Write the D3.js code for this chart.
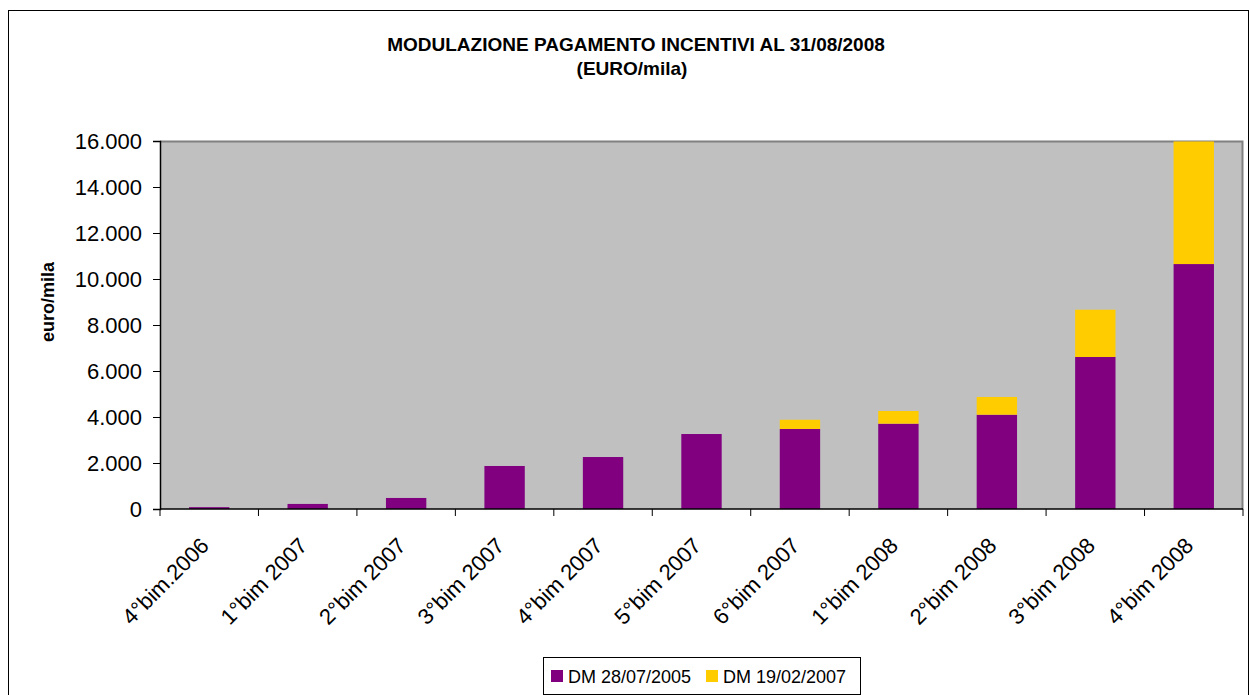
<!DOCTYPE html>
<html>
<head>
<meta charset="utf-8">
<title>Modulazione pagamento incentivi</title>
<script src="https://d3js.org/d3.v7.min.js"></script>
<style>
  body { margin: 0; background: #fff; }
  text { font-family: "Liberation Sans", Arial, sans-serif; }
</style>
</head>
<body>
<div id="chart"></div>
<script>
// periodi (bimestri)
const categories = ["4°bim.2006", "1°bim 2007", "2°bim 2007", "3°bim 2007", "4°bim 2007",
  "5°bim 2007", "6°bim 2007", "1°bim 2008", "2°bim 2008", "3°bim 2008", "4°bim 2008"];
// euro/mila per decreto
const dm2005 = [80, 220, 480, 1870, 2260, 3260, 3480, 3710, 4100, 6610, 10650];
const dm2007 = [0, 0, 0, 0, 0, 0, 400, 550, 770, 2055, 5330];
const seriesNames = ["DM 28/07/2005", "DM 19/02/2007"];
const yTicks = [0, 2000, 4000, 6000, 8000, 10000, 12000, 14000, 16000];

const W = 1250, H = 695;
const margin = {top: 141, right: 7, bottom: 186, left: 160};
const w = W - margin.left - margin.right;
const h = H - margin.top - margin.bottom;

const svg = d3.select("#chart").append("svg")
    .attr("width", W).attr("height", H);

// cornice esterna
svg.append("rect")
    .attr("x", 8.5).attr("y", 10.5)
    .attr("width", 1240).attr("height", 690)
    .attr("fill", "#fff").attr("stroke", "#000").attr("stroke-width", 1);

// titolo
svg.append("text")
    .attr("x", 636).attr("y", 51)
    .attr("text-anchor", "middle")
    .attr("font-size", "19px").attr("font-weight", "bold")
    .text("MODULAZIONE PAGAMENTO INCENTIVI AL 31/08/2008");
svg.append("text")
    .attr("x", 632).attr("y", 75)
    .attr("text-anchor", "middle")
    .attr("font-size", "19px").attr("font-weight", "bold")
    .text("(EURO/mila)");

const g = svg.append("g")
    .attr("transform", "translate(" + margin.left + "," + margin.top + ")");

const x = d3.scaleBand().domain(categories).range([0, w]).paddingInner(0.59).paddingOuter(0.295);
const xTicks = d3.scaleBand().domain(categories).range([0, w]);
const y = d3.scaleLinear().domain([0, 16000]).range([h, 0]);

// area del grafico
g.append("rect")
    .attr("width", w).attr("height", h)
    .attr("fill", "#C0C0C0");
g.append("path")
    .attr("d", "M0,0.5H" + (w - 0.5) + "V" + h)
    .attr("fill", "none").attr("stroke", "#808080").attr("stroke-width", 2);

// barre impilate
const table = categories.map((c, i) => ({cat: c, a: dm2005[i], b: dm2007[i]}));
const stack = d3.stack().keys(["a", "b"])(table);
const colors = ["#800080", "#FFCC00"];

g.selectAll("g.serie")
    .data(stack)
    .join("g")
    .attr("class", "serie")
    .attr("fill", (d, i) => colors[i])
    .selectAll("rect")
    .data(d => d)
    .join("rect")
    .attr("x", d => x(d.data.cat))
    .attr("width", x.bandwidth())
    .attr("y", d => y(d[1]))
    .attr("height", d => y(d[0]) - y(d[1]));

// asse y
const yAxis = d3.axisLeft(y)
    .tickValues(yTicks)
    .tickSize(7)
    .tickPadding(11)
    .tickFormat(d => d3.format(",")(d).replace(/,/g, "."));
const ya = g.append("g").call(yAxis);
ya.select(".domain").attr("stroke", "#000").attr("stroke-width", 1.5);
ya.selectAll("text").attr("font-size", "22px").attr("fill", "#000")
    .attr("font-family", "\"Liberation Sans\", Arial, sans-serif");

// asse x
const xa = g.append("g").attr("transform", "translate(0," + h + ")");
xa.append("line").attr("x1", 0).attr("x2", w)
    .attr("stroke", "#000").attr("stroke-width", 1.5);
xa.selectAll("line.tick")
    .data(categories.concat(["end"]))
    .join("line")
    .attr("class", "tick")
    .attr("x1", (d, i) => i * xTicks.step()).attr("x2", (d, i) => i * xTicks.step())
    .attr("y1", 0).attr("y2", 7)
    .attr("stroke", "#000");
xa.selectAll("text")
    .data(categories)
    .join("text")
    .attr("transform", d => "translate(" + (xTicks(d) + xTicks.bandwidth() / 2 + 1) + ",38) rotate(-45)")
    .attr("text-anchor", "end")
    .attr("font-size", "22px")
    .text(d => d);

// titolo asse y
svg.append("text")
    .attr("transform", "translate(54,302) rotate(-90)")
    .attr("text-anchor", "middle")
    .attr("font-size", "18px").attr("font-weight", "bold")
    .text("euro/mila");

// legenda
const leg = svg.append("g").attr("transform", "translate(543,657)");
leg.append("rect").attr("x", 0.5).attr("y", 0.5).attr("width", 317).attr("height", 37)
    .attr("fill", "#fff").attr("stroke", "#000");
const legX = [8, 163];
seriesNames.forEach((s, i) => {
    leg.append("rect").attr("x", legX[i]).attr("y", 13).attr("width", 12).attr("height", 12)
        .attr("fill", colors[i]);
    leg.append("text").attr("x", legX[i] + 17).attr("y", 26)
        .attr("font-size", "18px").text(s);
});
</script>
</body>
</html>
